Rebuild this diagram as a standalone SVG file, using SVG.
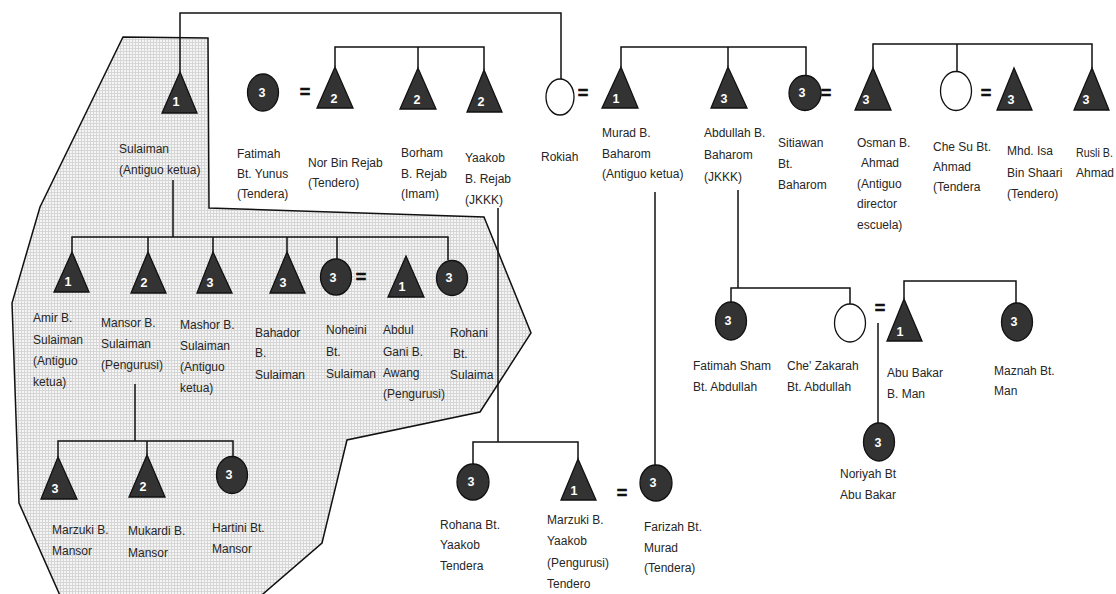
<svg xmlns="http://www.w3.org/2000/svg" width="1116" height="594" viewBox="0 0 1116 594">
<style>
.t{font-family:"Liberation Sans",Arial,sans-serif;font-size:12px;fill:#262626}
.n{font-family:"Liberation Sans",Arial,sans-serif;font-size:12.5px;font-weight:bold;fill:#fff;text-anchor:middle}
.eq{font-family:"Liberation Sans",Arial,sans-serif;font-size:18px;font-weight:bold;fill:#111;stroke:#111;stroke-width:0.6;text-anchor:middle}
.tri{fill:#333;stroke:#111;stroke-width:1.3}
.dc{fill:#333;stroke:#111;stroke-width:1.3}
.oc{fill:#fff;stroke:#111;stroke-width:1.3}
.ln{fill:none;stroke:#111;stroke-width:1.5}
</style>
<defs>
<pattern id="grid" width="3" height="3" patternUnits="userSpaceOnUse">
<rect width="3" height="3" fill="#f5f5f5"/>
<path d="M0 0.5H3M0.5 0V3" stroke="#d6d6d6" stroke-width="1"/>
</pattern>
</defs>
<rect width="1116" height="594" fill="#fff"/>
<polygon id="shaded-area" points="123,37 208,38 209,208 484,217 531,333 480,412 347,440 322,543 256,600 62,600 19,503 12,303 40,207" fill="url(#grid)" stroke="#111" stroke-width="1.5"/>

<g id="connectors" class="ln">
<path d="M180,72V13H561V79"/>
<path d="M335,67V47H484V70M418,47V68"/>
<path d="M621,67V47H806V75M728,47V67"/>
<path d="M873,68V44H1092V68M957,44V71"/>
<path d="M173,180V237M72,252V237H448V260M148,237V252M213,237V252M287,237V252M337,237V259"/>
<path d="M135,384V441M58,457V441H233V457M147,441V455"/>
<path d="M498,208V442M473,464V442H578V459"/>
<path d="M655,192V465"/>
<path d="M738,190V288M731,303V288H850V304"/>
<path d="M878,323V423"/>
<path d="M904,299V281H1016V303"/>
</g>

<g id="marriage-signs">
<text class="eq" x="305" y="98">=</text>
<text class="eq" x="583" y="99">=</text>
<text class="eq" x="826" y="99">=</text>
<text class="eq" x="986" y="99">=</text>
<text class="eq" x="361" y="283">=</text>
<text class="eq" x="622" y="499">=</text>
<text class="eq" x="880" y="314">=</text>
</g>

<g id="sulaiman">
<polygon class="tri" points="180,72 162,113 197,113"/>
<text class="n" x="176" y="106">1</text>
<text class="t" x="119" y="153">Sulaiman</text>
<text class="t" x="119" y="174">(Antiguo ketua)</text>
</g>
<g id="fatimah-yunus">
<ellipse class="dc" cx="263" cy="92.5" rx="15.5" ry="18.5"/>
<text class="n" x="262" y="97">3</text>
<text class="t" x="237" y="158">Fatimah</text>
<text class="t" x="237" y="178">Bt. Yunus</text>
<text class="t" x="237" y="198">(Tendera)</text>
</g>
<g id="nor-bin-rejab">
<polygon class="tri" points="335,67 317,108 353,108"/>
<text class="n" x="334" y="103">2</text>
<text class="t" x="308" y="167">Nor Bin Rejab</text>
<text class="t" x="308" y="187">(Tendero)</text>
</g>
<g id="borham">
<polygon class="tri" points="418,68 400,109 436,109"/>
<text class="n" x="417" y="104">2</text>
<text class="t" x="401" y="157">Borham</text>
<text class="t" x="401" y="178">B. Rejab</text>
<text class="t" x="401" y="198">(Imam)</text>
</g>
<g id="yaakob">
<polygon class="tri" points="484,70 467,112 502,112"/>
<text class="n" x="481" y="106">2</text>
<text class="t" x="465" y="162">Yaakob</text>
<text class="t" x="465" y="183">B. Rejab</text>
<text class="t" x="465" y="204">(JKKK)</text>
</g>
<g id="rokiah">
<ellipse class="oc" cx="560" cy="97" rx="14" ry="18"/>
<text class="t" x="541" y="161">Rokiah</text>
</g>
<g id="murad">
<polygon class="tri" points="621,67 602,108 638,108"/>
<text class="n" x="616" y="103">1</text>
<text class="t" x="602" y="137">Murad B.</text>
<text class="t" x="602" y="158">Baharom</text>
<text class="t" x="602" y="178">(Antiguo ketua)</text>
</g>
<g id="abdullah">
<polygon class="tri" points="728,67 711,108 747,108"/>
<text class="n" x="724" y="103">3</text>
<text class="t" x="704" y="137">Abdullah B.</text>
<text class="t" x="704" y="159">Baharom</text>
<text class="t" x="704" y="181">(JKKK)</text>
</g>
<g id="sitiawan">
<ellipse class="dc" cx="805" cy="93" rx="16" ry="17.5"/>
<text class="n" x="802" y="97">3</text>
<text class="t" x="778" y="147">Sitiawan</text>
<text class="t" x="778" y="168">Bt.</text>
<text class="t" x="778" y="189">Baharom</text>
</g>
<g id="osman">
<polygon class="tri" points="873,68 855,110 891,110"/>
<text class="n" x="866" y="104">3</text>
<text class="t" x="857" y="147">Osman B.</text>
<text class="t" x="861" y="167">Ahmad</text>
<text class="t" x="857" y="188">(Antiguo</text>
<text class="t" x="857" y="208">director</text>
<text class="t" x="857" y="229">escuela)</text>
</g>
<g id="che-su">
<ellipse class="oc" cx="956" cy="91" rx="15.5" ry="19.5"/>
<text class="t" x="933" y="151">Che Su Bt.</text>
<text class="t" x="933" y="171">Ahmad</text>
<text class="t" x="933" y="191">(Tendera</text>
</g>
<g id="mhd-isa">
<polygon class="tri" points="1014,68 997,110 1032,110"/>
<text class="n" x="1011" y="104">3</text>
<text class="t" x="1007" y="155">Mhd. Isa</text>
<text class="t" x="1007" y="177">Bin Shaari</text>
<text class="t" x="1007" y="198">(Tendero)</text>
</g>
<g id="rusli">
<polygon class="tri" points="1092,68 1074,110 1109,110"/>
<text class="n" x="1086" y="104">3</text>
<text class="t" x="1076" y="157" textLength="37" lengthAdjust="spacingAndGlyphs">Rusli B.</text>
<text class="t" x="1076" y="177">Ahmad</text>
</g>

<g id="amir">
<polygon class="tri" points="72,252 54,292 89,292"/>
<text class="n" x="68" y="286">1</text>
<text class="t" x="33" y="322">Amir B.</text>
<text class="t" x="33" y="344">Sulaiman</text>
<text class="t" x="33" y="365">(Antiguo</text>
<text class="t" x="33" y="386">ketua)</text>
</g>
<g id="mansor">
<polygon class="tri" points="148,252 131,293 166,293"/>
<text class="n" x="144" y="287">2</text>
<text class="t" x="101" y="327">Mansor B.</text>
<text class="t" x="101" y="348">Sulaiman</text>
<text class="t" x="101" y="369">(Pengurusi)</text>
</g>
<g id="mashor">
<polygon class="tri" points="213,252 197,293 232,293"/>
<text class="n" x="210" y="287">3</text>
<text class="t" x="180" y="329">Mashor B.</text>
<text class="t" x="180" y="350">Sulaiman</text>
<text class="t" x="180" y="371">(Antiguo</text>
<text class="t" x="180" y="392">ketua)</text>
</g>
<g id="bahador">
<polygon class="tri" points="287,252 270,293 305,293"/>
<text class="n" x="283" y="287">3</text>
<text class="t" x="255" y="337">Bahador</text>
<text class="t" x="255" y="357">B.</text>
<text class="t" x="255" y="379">Sulaiman</text>
</g>
<g id="noheini">
<ellipse class="dc" cx="336" cy="277" rx="15.5" ry="18"/>
<text class="n" x="333" y="282">3</text>
<text class="t" x="326" y="334">Noheini</text>
<text class="t" x="326" y="356">Bt.</text>
<text class="t" x="326" y="378">Sulaiman</text>
</g>
<g id="abdul-gani">
<polygon class="tri" points="406,256 388,297 424,297"/>
<text class="n" x="402" y="291">1</text>
<text class="t" x="383" y="334">Abdul</text>
<text class="t" x="383" y="356">Gani B.</text>
<text class="t" x="383" y="377">Awang</text>
<text class="t" x="383" y="398">(Pengurusi)</text>
</g>
<g id="rohani">
<ellipse class="dc" cx="452" cy="278" rx="15.5" ry="17.5"/>
<text class="n" x="449" y="282">3</text>
<text class="t" x="450" y="337">Rohani</text>
<text class="t" x="453" y="358">Bt.</text>
<text class="t" x="450" y="379">Sulaima</text>
</g>

<g id="marzuki-mansor">
<polygon class="tri" points="58,457 41,499 77,499"/>
<text class="n" x="55" y="493">3</text>
<text class="t" x="52" y="534">Marzuki B.</text>
<text class="t" x="52" y="555">Mansor</text>
</g>
<g id="mukardi">
<polygon class="tri" points="147,455 129,497 165,497"/>
<text class="n" x="143" y="491">2</text>
<text class="t" x="128" y="535">Mukardi B.</text>
<text class="t" x="128" y="557">Mansor</text>
</g>
<g id="hartini">
<ellipse class="dc" cx="232" cy="475" rx="15.5" ry="18.5"/>
<text class="n" x="229" y="479">3</text>
<text class="t" x="212" y="532">Hartini Bt.</text>
<text class="t" x="212" y="553">Mansor</text>
</g>

<g id="rohana">
<ellipse class="dc" cx="473" cy="482" rx="16" ry="18"/>
<text class="n" x="471" y="486">3</text>
<text class="t" x="440" y="529">Rohana Bt.</text>
<text class="t" x="440" y="549">Yaakob</text>
<text class="t" x="440" y="570">Tendera</text>
</g>
<g id="marzuki-yaakob">
<polygon class="tri" points="578,459 561,500 596,500"/>
<text class="n" x="574" y="495">1</text>
<text class="t" x="547" y="524">Marzuki B.</text>
<text class="t" x="547" y="545">Yaakob</text>
<text class="t" x="547" y="567">(Pengurusi)</text>
<text class="t" x="547" y="588">Tendero</text>
</g>
<g id="farizah">
<ellipse class="dc" cx="656" cy="483" rx="16" ry="18"/>
<text class="n" x="653" y="487">3</text>
<text class="t" x="644" y="531">Farizah Bt.</text>
<text class="t" x="644" y="552">Murad</text>
<text class="t" x="644" y="572">(Tendera)</text>
</g>

<g id="fatimah-sham">
<ellipse class="dc" cx="731" cy="321" rx="15.5" ry="19"/>
<text class="n" x="728" y="325">3</text>
<text class="t" x="693" y="370">Fatimah Sham</text>
<text class="t" x="693" y="391">Bt. Abdullah</text>
</g>
<g id="che-zakarah">
<ellipse class="oc" cx="850" cy="323" rx="15.5" ry="19"/>
<text class="t" x="787" y="370">Che' Zakarah</text>
<text class="t" x="787" y="391">Bt. Abdullah</text>
</g>
<g id="abu-bakar">
<polygon class="tri" points="904,299 887,341 922,341"/>
<text class="n" x="900" y="336">1</text>
<text class="t" x="887" y="377">Abu Bakar</text>
<text class="t" x="887" y="398">B. Man</text>
</g>
<g id="maznah">
<ellipse class="dc" cx="1017" cy="322" rx="15.5" ry="19"/>
<text class="n" x="1014" y="326">3</text>
<text class="t" x="994" y="375">Maznah Bt.</text>
<text class="t" x="994" y="395">Man</text>
</g>
<g id="noriyah">
<ellipse class="dc" cx="879" cy="442" rx="15.5" ry="19"/>
<text class="n" x="878" y="447">3</text>
<text class="t" x="840" y="478">Noriyah Bt</text>
<text class="t" x="840" y="499">Abu Bakar</text>
</g>
</svg>
